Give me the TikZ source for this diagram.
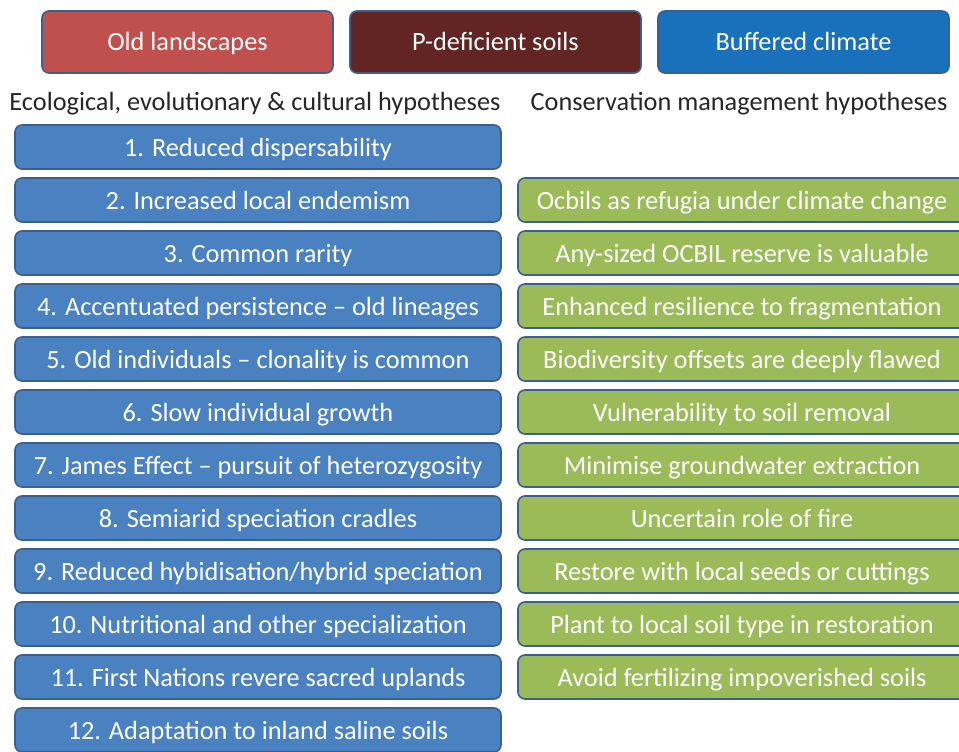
\documentclass[tikz,border=0pt]{standalone}
\usepackage{fontspec}
\setmainfont{Carlito}
\usetikzlibrary{positioning}

\definecolor{oldred}{HTML}{C0504D}
\definecolor{soilbrown}{HTML}{632523}
\definecolor{climblue}{HTML}{1871BA}
\definecolor{hypblue}{HTML}{4A81C0}
\definecolor{consgreen}{HTML}{9BBB59}
\definecolor{edgeblue}{HTML}{3B5F8E}
\definecolor{headgray}{HTML}{262626}

\begin{document}
\begin{tikzpicture}[x=1pt,y=1pt,node distance=9pt,
                    box/.style={rectangle,rounded corners=7pt,draw=edgeblue,line width=1.6pt,
                      text=white,font=\fontsize{26.3}{30}\selectfont,inner sep=0pt,outer sep=0pt,
                      text height=19pt,text depth=1pt},
                    top node/.style={box,minimum width=291pt,minimum height=62pt},
                    hyp node/.style={box,fill=hypblue,minimum width=486pt,minimum height=44pt},
                    cons node/.style={box,fill=consgreen,minimum width=448pt,minimum height=44pt},
                    head/.style={text=headgray,font=\fontsize{26.3}{30}\selectfont,inner sep=0pt,
                      text height=19pt,text depth=1pt}]

  \clip (0,0) rectangle (959,-752);

  % three top boxes
  \node[top node,fill=oldred] (land) at (187.5,-42) {Old landscapes};
  \node[top node,fill=soilbrown] (soil) [right=17pt of land] {P-deficient soils};
  \node[top node,fill=climblue] (climate) [right=17pt of soil] {Buffered climate};

  % column headings
  \node[head] (eco) at (255,-101.5) {Ecological, evolutionary \& cultural hypotheses};
  \node[head] (cons) at (739,-101.5) {Conservation management hypotheses};

  % left column
  \node[hyp node] (h1) at (258,-147) {1. Reduced dispersability};
  \node[hyp node] (h2) [below=of h1] {2. Increased local endemism};
  \node[hyp node] (h3) [below=of h2] {3. Common rarity};
  \node[hyp node] (h4) [below=of h3] {4. Accentuated persistence – old lineages};
  \node[hyp node] (h5) [below=of h4] {5. Old individuals – clonality is common};
  \node[hyp node] (h6) [below=of h5] {6. Slow individual growth};
  \node[hyp node] (h7) [below=of h6] {7. James Effect – pursuit of heterozygosity};
  \node[hyp node] (h8) [below=of h7] {8. Semiarid speciation cradles};
  \node[hyp node] (h9) [below=of h8] {9. Reduced hybidisation/hybrid speciation};
  \node[hyp node] (h10) [below=of h9] {10. Nutritional and other specialization};
  \node[hyp node] (h11) [below=of h10] {11. First Nations revere sacred uplands};
  \node[hyp node] (h12) [below=of h11] {12. Adaptation to inland saline soils};

  % right column
  \node[cons node] (c2) [right=17pt of h2] {Ocbils as refugia under climate change};
  \node[cons node] (c3) [right=17pt of h3] {Any-sized OCBIL reserve is valuable};
  \node[cons node] (c4) [right=17pt of h4] {Enhanced resilience to fragmentation};
  \node[cons node] (c5) [right=17pt of h5] {Biodiversity offsets are deeply flawed};
  \node[cons node] (c6) [right=17pt of h6] {Vulnerability to soil removal};
  \node[cons node] (c7) [right=17pt of h7] {Minimise groundwater extraction};
  \node[cons node] (c8) [right=17pt of h8] {Uncertain role of fire};
  \node[cons node] (c9) [right=17pt of h9] {Restore with local seeds or cuttings};
  \node[cons node] (c10) [right=17pt of h10] {Plant to local soil type in restoration};
  \node[cons node] (c11) [right=17pt of h11] {Avoid fertilizing impoverished soils};
\end{tikzpicture}
\end{document}
